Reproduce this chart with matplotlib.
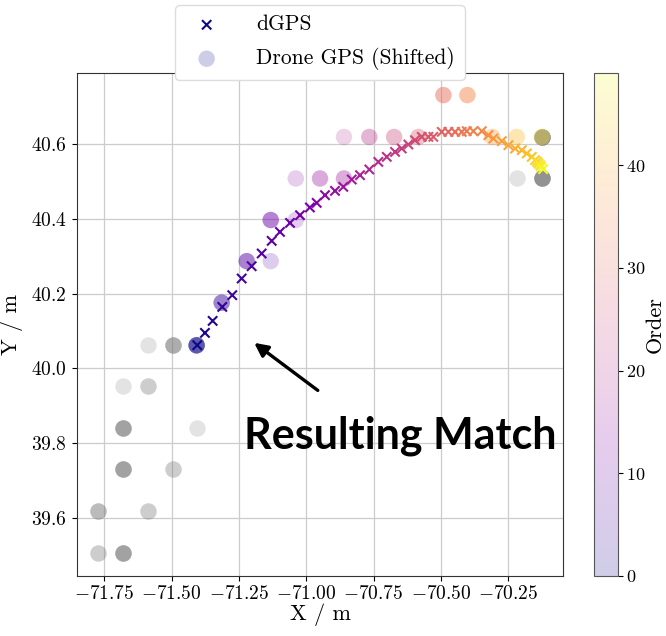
import numpy as np
import matplotlib
matplotlib.use("Agg")
import matplotlib.pyplot as plt

plt.rcParams["font.family"] = "serif"
plt.rcParams["font.serif"] = ["cmr10"]
plt.rcParams["mathtext.fontset"] = "cm"
plt.rcParams["axes.formatter.use_mathtext"] = True

# dGPS track (one fix per order step)
dgps_x = [-71.4047, -71.3761, -71.3475, -71.3118, -71.2747, -71.2398, -71.2027,
          -71.1655, -71.1284, -71.0976, -71.0604, -71.0233, -70.9866, -70.9613,
          -70.9305, -70.8934, -70.8625, -70.8313, -70.8005, -70.7660, -70.7326,
          -70.7013, -70.6705, -70.6457, -70.6211, -70.5963, -70.5714, -70.5469,
          -70.5283, -70.4971, -70.4726, -70.4477, -70.4229, -70.4043, -70.3798,
          -70.3486, -70.3241, -70.3055, -70.2743, -70.2498, -70.2249, -70.2000,
          -70.1815, -70.1630, -70.1507, -70.1433, -70.1384, -70.1321, -70.1284,
          -70.1210]
dgps_y = [40.0623, 40.0952, 40.1273, 40.1647, 40.1960, 40.2406, 40.2735,
          40.3075, 40.3412, 40.3652, 40.3893, 40.4099, 40.4305, 40.4428,
          40.4634, 40.4749, 40.4856, 40.5053, 40.5168, 40.5321, 40.5524,
          40.5658, 40.5791, 40.5882, 40.5989, 40.6104, 40.6193, 40.6193,
          40.6193, 40.6326, 40.6326, 40.6326, 40.6326, 40.6345, 40.6345,
          40.6345, 40.6238, 40.6150, 40.6078, 40.5971, 40.5882, 40.5837,
          40.5749, 40.5658, 40.5570, 40.5529, 40.5481, 40.5436, 40.5390,
          40.5330]
dgps_order = list(range(len(dgps_x)))

# Drone GPS fixes inside the matched window (shifted), with repeat counts
drone_x = [-71.407, -71.314, -71.221, -71.132, -71.132, -71.039, -71.039,
           -70.949, -70.860, -70.860, -70.766, -70.674, -70.584, -70.491,
           -70.402, -70.309, -70.219, -70.126]
drone_y = [40.062, 40.176, 40.287, 40.287, 40.397, 40.397, 40.508,
           40.508, 40.508, 40.619, 40.619, 40.619, 40.619, 40.731,
           40.731, 40.619, 40.619, 40.619]
drone_order = [0, 4, 7, 8, 10, 12, 14, 16, 17, 19, 21, 24, 27, 31, 35, 38, 42, 46]
drone_fixes = [5, 3, 3, 1, 3, 1, 1, 2, 2, 1, 2, 2, 2, 3, 3, 2, 2, 2]

# Drone GPS fixes outside the matched window
other_x = [-71.773, -71.680, -71.773, -71.587, -71.680, -71.494, -71.680,
           -71.405, -71.680, -71.587, -71.587, -71.494, -70.219, -70.126,
           -70.126]
other_y = [39.508, 39.508, 39.618, 39.618, 39.731, 39.731, 39.840,
           39.840, 39.953, 39.953, 40.062, 40.062, 40.508, 40.508,
           40.619]
other_fixes = [2, 5, 3, 2, 5, 2, 5, 1, 1, 2, 1, 4, 1, 7, 7]

fig = plt.figure(figsize=(6.66, 6.36), dpi=100)
ax = fig.add_axes([0.1152, 0.0948, 0.7306, 0.7904])
cax = fig.add_axes([0.892, 0.0948, 0.036, 0.7904])

ax.grid(True, color="#cccccc", linewidth=0.9)
ax.set_axisbelow(True)

ax.scatter(np.repeat(other_x, other_fixes), np.repeat(other_y, other_fixes),
           s=140, color="#777777", alpha=0.2, linewidths=0, zorder=2)

circ = ax.scatter(np.repeat(drone_x, drone_fixes), np.repeat(drone_y, drone_fixes),
                  c=np.repeat(drone_order, drone_fixes), cmap="plasma",
                  vmin=0, vmax=49, s=140, alpha=0.2, linewidths=0, zorder=3,
                  label="Drone GPS (Shifted)")

ax.scatter(dgps_x, dgps_y, c=dgps_order, cmap="plasma", vmin=0, vmax=49,
           marker="x", s=45, linewidths=1.5, zorder=4, label="dGPS")

ax.set_xlim(-71.852, -70.046)
ax.set_ylim(39.446, 40.79)
ax.set_xticks([-71.75, -71.5, -71.25, -71.0, -70.75, -70.5, -70.25])
ax.set_yticks([39.6, 39.8, 40.0, 40.2, 40.4, 40.6])
ax.tick_params(labelsize=14)
ax.set_xlabel("X / m", fontsize=16, labelpad=0)
ax.set_ylabel("Y / m", fontsize=16, labelpad=6)
for sp in ax.spines.values():
    sp.set_color("#333333")

handles, labels = ax.get_legend_handles_labels()
order = [labels.index("dGPS"), labels.index("Drone GPS (Shifted)")]
leg = ax.legend([handles[i] for i in order], [labels[i] for i in order],
                loc="lower center", bbox_to_anchor=(0.5, 0.986), fontsize=15.5,
                frameon=True, framealpha=1, edgecolor="#dddddd",
                borderpad=0.45, borderaxespad=0, labelspacing=0.6,
                handletextpad=1.3)
leg.set_zorder(10)

cb = fig.colorbar(circ, cax=cax)
cb.set_ticks([0, 10, 20, 30, 40])
cb.ax.tick_params(labelsize=13, pad=2)
cb.set_label("Order", fontsize=16, labelpad=0)
cb.outline.set_edgecolor("#555555")

ax.annotate("", xy=(-71.2015, 40.073), xytext=(-70.949, 39.937),
            arrowprops=dict(arrowstyle="-|>,head_length=0.8,head_width=0.4",
                            color="black", lw=2.4), zorder=6)
ax.text(-70.650, 39.787, "Resulting Match", family="Lato", fontweight="bold",
        fontsize=31, ha="center", va="baseline", zorder=6)

fig.savefig("out.png", dpi=100)
